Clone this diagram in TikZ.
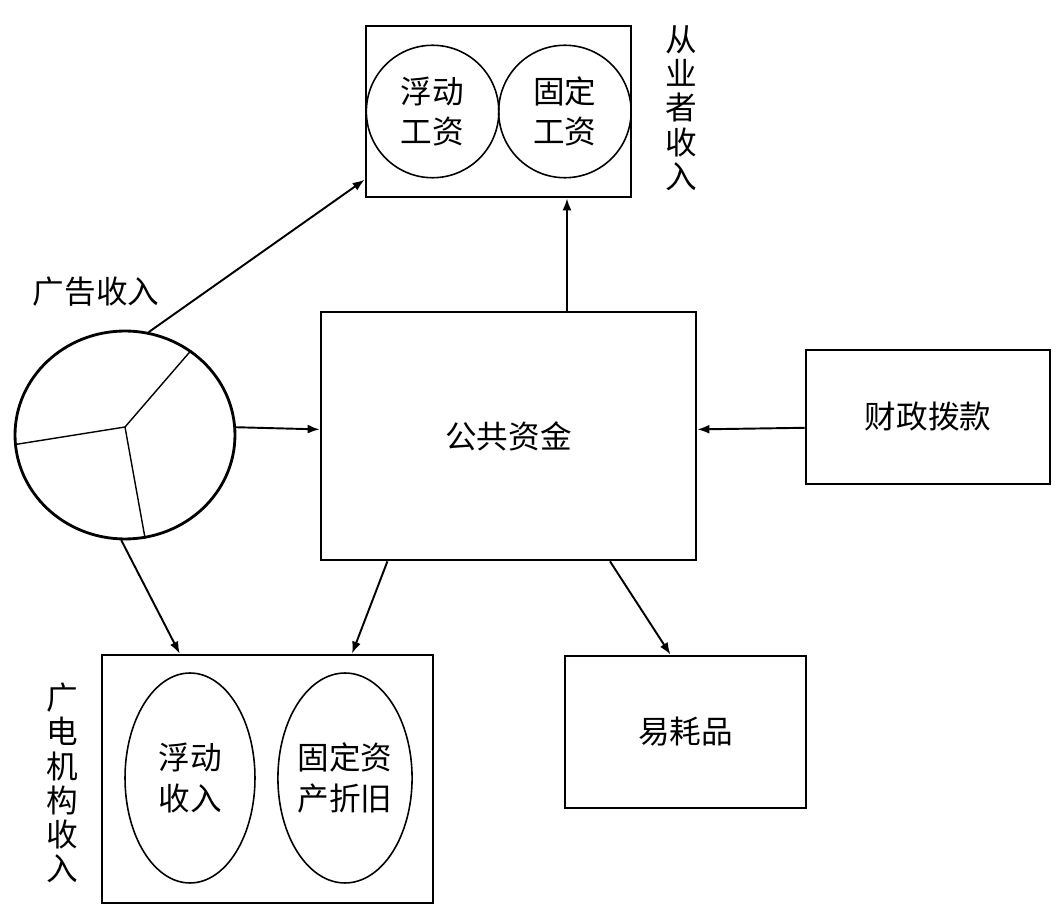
\documentclass[tikz,border=0pt]{standalone}
\usepackage{fontspec}
\setmainfont{Noto Sans CJK SC}
\usepackage{tikz}
\usetikzlibrary{shapes.geometric, arrows.meta}

\begin{document}
\begin{tikzpicture}[
    x=0.02cm, y=-0.02cm,
    box/.style={rectangle, draw, line width=1.6pt, inner sep=0pt, align=center, font=\fontsize{18}{23}\selectfont},
    part/.style={draw, line width=0.9pt, inner sep=0pt, align=center, font=\fontsize{18}{23}\selectfont},
    tag/.style={inner sep=0pt, align=center, font=\fontsize{18}{19.5}\selectfont},
    arrow/.style={-{Latex[length=2.4mm, width=1.8mm]}, line width=1.1pt},
]
\useasboundingbox (0,0) rectangle (1063,915);

% boxes
\node[box, minimum width=5.3cm, minimum height=3.42cm] (wage) at (498.5, 111.5) {};
\node[box, minimum width=7.5cm, minimum height=4.96cm] (fund) at (508.5, 436) {公共资金};
\node[box, minimum width=4.88cm, minimum height=2.68cm] (grant) at (928, 417) {财政拨款};
\node[box, minimum width=4.82cm, minimum height=3.04cm] (cons) at (685.5, 732) {易耗品};
\node[box, minimum width=6.62cm, minimum height=4.96cm] (lab) at (267.5, 779) {};

% parts inside the boxes
\node[part, circle, minimum size=2.65cm] (fwage) at (432.6, 111.5) {浮动\\工资};
\node[part, circle, minimum size=2.65cm] (swage) at (564.9, 111.5) {固定\\工资};
\node[part, ellipse, minimum width=2.6cm, minimum height=4.2cm] (finc) at (190, 778) {浮动\\收入};
\node[part, ellipse, minimum width=2.6cm, minimum height=4.2cm] (depr) at (345, 778) {固定资\\产折旧};

% advertising pie
\node[ellipse, draw, line width=1.6pt, inner sep=0pt, minimum width=4.4cm, minimum height=4.16cm] (pie) at (125, 435) {};
\coordinate (hub) at (125, 427);
\draw[line width=0.8pt] (hub) -- (pie.52);
\draw[line width=0.8pt] (hub) -- (pie.185);
\draw[line width=0.8pt] (hub) -- (pie.281);

% labels
\node[tag] (adlbl) at (96, 292) {广告收入};
\node[tag] (wagelbl) at (681, 108) {从\\业\\者\\收\\入};
\node[tag] (lablbl) at (62, 783) {广\\电\\机\\构\\收\\入};

% connectors
\draw[arrow] (pie.77) -- (wage.207);
\draw[arrow] (pie.4) -- (fund.178);
\draw[arrow] (grant.185) -- (fund.2);
\draw[arrow] (fund.65) -- (fund.65 |- wage.south);
\draw[arrow] (pie.268) -- (lab.125);
\draw[arrow] (fund.226) -- (lab.56);
\draw[arrow] (fund.309) -- (cons.101);

\end{tikzpicture}
\end{document}
